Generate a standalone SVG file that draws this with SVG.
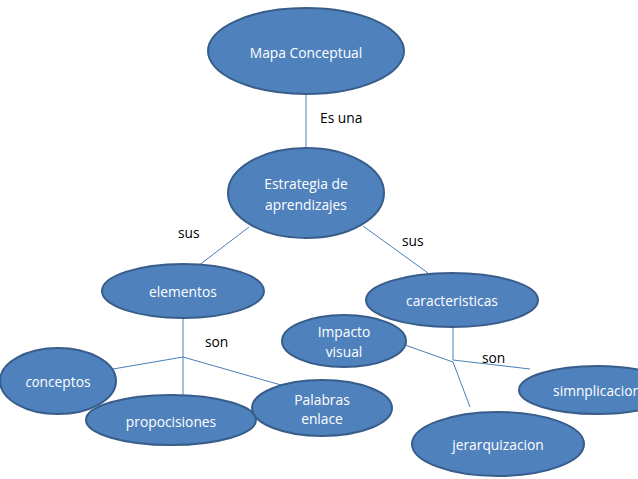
<svg xmlns="http://www.w3.org/2000/svg" width="638" height="479" viewBox="0 0 638 479">
<style>
.n{fill:#4f81bd;stroke:#385d8a;stroke-width:2}
.t{font-family:"Open Sans","Liberation Sans",sans-serif;font-size:13.8px;fill:#ffffff;text-anchor:middle;dominant-baseline:central}
.l{font-family:"Open Sans","Liberation Sans",sans-serif;font-size:13.8px;fill:#000000;dominant-baseline:central}
.c{fill:none;stroke:#4a7ebb;stroke-width:1}
</style>
<rect width="638" height="479" fill="#ffffff"/>
<g id="connectors">
<line class="c" x1="306" y1="95" x2="306" y2="148"/>
<line class="c" x1="249" y1="227" x2="198" y2="266"/>
<line class="c" x1="363" y1="226" x2="428" y2="273"/>
<line class="c" x1="183" y1="318" x2="183" y2="395"/>
<polyline class="c" points="113,369 183,357 281,385"/>
<line class="c" x1="453" y1="328" x2="453" y2="360"/>
<polyline class="c" points="405,345 453,362 470,407"/>
<line class="c" x1="453" y1="360" x2="530" y2="369"/>
</g>
<g id="labels">
<text class="l" x="320" y="117">Es una</text>
<text class="l" x="178" y="232">sus</text>
<text class="l" x="402" y="240">sus</text>
<text class="l" x="205" y="341">son</text>
<text class="l" x="482" y="357">son</text>
</g>
<g id="mapa"><ellipse class="n" cx="306" cy="51" rx="98" ry="43"/><text class="t" x="306" y="52">Mapa Conceptual</text></g>
<g id="estrategia"><ellipse class="n" cx="306" cy="193" rx="78" ry="45"/><text class="t" x="306" y="183">Estrategia de</text><text class="t" x="306" y="204">aprendizajes</text></g>
<g id="elementos"><ellipse class="n" cx="183" cy="291" rx="81" ry="27"/><text class="t" x="183" y="291">elementos</text></g>
<g id="caracteristicas"><ellipse class="n" cx="452" cy="300" rx="86" ry="27"/><text class="t" x="452" y="300">caracteristicas</text></g>
<g id="conceptos"><ellipse class="n" cx="58" cy="381" rx="58" ry="33"/><text class="t" x="58" y="381"><tspan font-style="italic">co</tspan>nceptos</text></g>
<g id="propocisiones"><ellipse class="n" cx="171" cy="420" rx="85" ry="25"/><text class="t" x="171" y="421">propocisiones</text></g>
<g id="palabras"><ellipse class="n" cx="322" cy="408" rx="70" ry="28"/><text class="t" x="322" y="399">Palabras</text><text class="t" x="322" y="418">enlace</text></g>
<g id="impacto"><ellipse class="n" cx="344" cy="341" rx="62" ry="26"/><text class="t" x="344" y="331">Impacto</text><text class="t" x="344" y="351">visual</text></g>
<g id="simnplicacion"><ellipse class="n" cx="597" cy="390" rx="78" ry="24"/><text class="t" x="597" y="390">simnplicacion</text></g>
<g id="jerarquizacion"><ellipse class="n" cx="498" cy="444" rx="86" ry="32"/><text class="t" x="498" y="444">jerarquizacion</text></g>
</svg>
